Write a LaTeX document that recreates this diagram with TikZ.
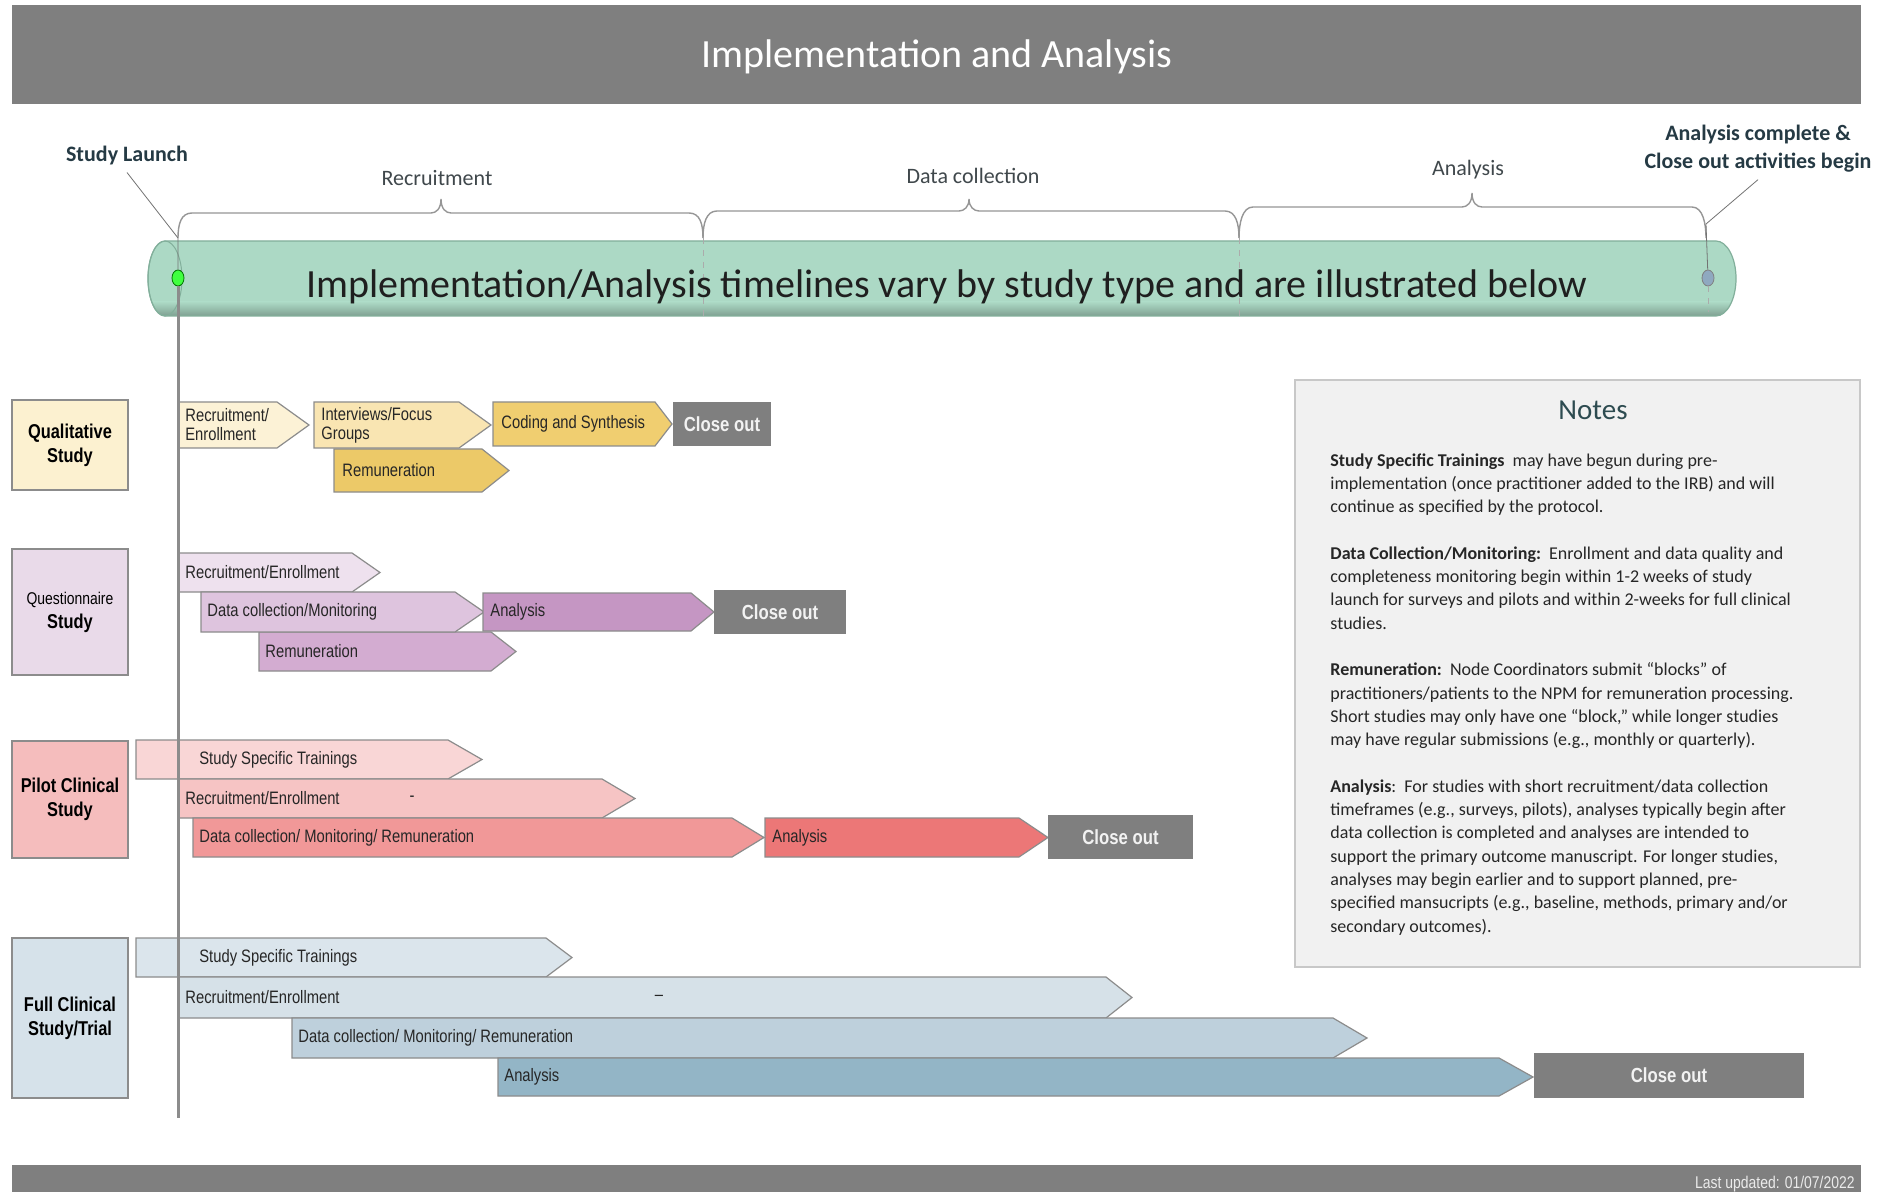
\documentclass[tikz,border=0pt]{standalone}
\usepackage{fontspec}
\setmainfont{Carlito}
\newfontfamily\narrowfont[FakeStretch=0.82]{Liberation Sans}
\usetikzlibrary{shapes.geometric}

\definecolor{barGray}{RGB}{127,127,127}
\definecolor{edgeGray}{RGB}{140,140,140}
\definecolor{tubeGreen}{RGB}{172,217,197}
\definecolor{tubeEdge}{RGB}{130,175,155}
\definecolor{leadText}{RGB}{37,58,68}
\definecolor{phaseText}{RGB}{64,72,76}
\definecolor{braceGray}{RGB}{150,150,150}
\definecolor{notesFill}{RGB}{241,241,241}
\definecolor{notesEdge}{RGB}{200,200,200}
\definecolor{notesHead}{RGB}{45,75,80}
% qualitative
\definecolor{qualBox}{RGB}{252,241,208}
\definecolor{qualA}{RGB}{252,242,214}
\definecolor{qualB}{RGB}{249,229,178}
\definecolor{qualC}{RGB}{240,206,112}
\definecolor{qualD}{RGB}{236,201,104}
% questionnaire
\definecolor{quesBox}{RGB}{233,218,233}
\definecolor{quesA}{RGB}{238,225,238}
\definecolor{quesB}{RGB}{222,196,222}
\definecolor{quesC}{RGB}{197,150,195}
\definecolor{quesD}{RGB}{211,172,209}
% pilot
\definecolor{pilBox}{RGB}{245,189,189}
\definecolor{pilA}{RGB}{249,214,214}
\definecolor{pilB}{RGB}{246,196,196}
\definecolor{pilC}{RGB}{241,152,152}
\definecolor{pilD}{RGB}{236,119,119}
% full trial
\definecolor{fullBox}{RGB}{214,226,234}
\definecolor{fullA}{RGB}{219,229,236}
\definecolor{fullB}{RGB}{214,225,232}
\definecolor{fullC}{RGB}{190,208,220}
\definecolor{fullD}{RGB}{147,181,198}

% [text inset]{name}{fill}{left x}{tip x}{tip length}{top y}{bottom y}{text}
\newcommand{\phase}[9][6]{%
  \filldraw[phaseedge, fill=#3] (#4,#7) -- ({#5-#6},#7) -- (#5,{(#7+#8)/2}) -- ({#5-#6},#8) -- (#4,#8) -- cycle;
  \node[phaselabel, anchor=west] (#2) at ({#4+#1},{(#7+#8)/2}) {#9};}
% {name}{left x}{right x}{top y}{bottom y}
\newcommand{\closebox}[5]{%
  \fill[barGray] (#2,#4) rectangle (#3,#5);
  \node[closelabel] (#1) at ({(#2+#3)/2},{(#4+#5)/2}) {Close out};}
% {name}{fill}{top y}{bottom y}{text}
\newcommand{\studybox}[5]{%
  \filldraw[studyedge, fill=#2] (12,#3) rectangle (128,#4);
  \node[studylabel] (#1) at (70,{(#3+#4)/2}) {#5};}
% {left x}{right x}{tip x}{flat y}{tip y}
\newcommand{\tbrace}[5]{%
  \draw[phasebrace] (#1,238) .. controls (#1,224) and ({#1+3},#4) .. ({#1+14},#4) -- ({#3-10},#4)
    .. controls ({#3-5},#4) and (#3,{#4-4}) .. (#3,#5) .. controls (#3,{#4-4}) and ({#3+5},#4) .. ({#3+10},#4)
    -- ({#2-14},#4) .. controls ({#2-3},#4) and (#2,224) .. (#2,238);}

\begin{document}
\begin{tikzpicture}[x=0.5pt, y=-0.5pt,
  phaseedge/.style={draw=edgeGray, line width=0.6pt},
  phaselabel/.style={font=\narrowfont\fontsize{9}{9.5}\selectfont, inner sep=0pt, align=left, text=black!85},
  closelabel/.style={font=\narrowfont\bfseries\fontsize{10.2}{12}\selectfont, text=white!95!black, inner sep=0pt},
  studyedge/.style={draw=edgeGray, line width=0.7pt},
  studylabel/.style={font=\narrowfont\bfseries\fontsize{10}{12}\selectfont, align=center, inner sep=0pt},
  phasebrace/.style={draw=braceGray, line width=0.7pt},
  leader/.style={draw=black!55, line width=0.4pt},
  leadlabel/.style={font=\bfseries\fontsize{11}{14}\selectfont, text=leadText, align=center},
  spanlabel/.style={font=\fontsize{11}{13}\selectfont, text=phaseText},
  timeline/.style={draw=black!45, line width=1.5pt}]

\useasboundingbox (0,0) rectangle (1895,1192);
\fill[white] (0,0) rectangle (1895,1192);

% header and footer bars
\fill[barGray] (12,5) rectangle (1861,104);
\node[font=\fontsize{20}{24}\selectfont, text=white] (title) at (937,57) {Implementation and Analysis};
\fill[barGray] (12,1165) rectangle (1861,1192);
\node[font=\narrowfont\fontsize{8.5}{10}\selectfont, text=black!8, anchor=east, inner sep=0pt] (updated) at (1855,1184) {Last updated: 01/07/2022};

% the tube, flat with a shadowed lower edge
\fill[tubeGreen] (165,241) -- (1716,241) arc[start angle=-90, end angle=90, x radius=20, y radius=37.5]
  -- (165,316) arc[start angle=90, end angle=270, x radius=17, y radius=37.5] -- cycle;
\begin{scope}
  \clip (165,241) -- (1716,241) arc[start angle=-90, end angle=90, x radius=20, y radius=37.5]
    -- (165,316) arc[start angle=90, end angle=270, x radius=17, y radius=37.5] -- cycle;
  \shade[top color=tubeGreen, bottom color=tubeGreen!72!black] (140,302) rectangle (1740,317);
\end{scope}
\draw[tubeEdge, line width=0.6pt] (165,241) -- (1716,241) arc[start angle=-90, end angle=90, x radius=20, y radius=37.5]
  -- (165,316) arc[start angle=90, end angle=270, x radius=17, y radius=37.5] -- cycle;
\draw[tubeEdge, line width=0.5pt] (165,278.5) ellipse[x radius=17, y radius=37.5];
\draw[braceGray!80, dashed, line width=0.5pt] (703,238) -- (703,316);
\draw[braceGray!80, dashed, line width=0.5pt] (1239,238) -- (1239,316);
\node[font=\fontsize{20}{24}\selectfont, text=black!88] (tubetext) at (947,287)
  {Implementation/Analysis timelines vary by study type and are illustrated below};

% braces over the tube
\tbrace{178}{703}{441}{213}{199}
\tbrace{703}{1239}{969}{211}{199}
\tbrace{1239}{1706}{1472}{207}{193}
\node[spanlabel] (recruit) at (437,178) {Recruitment};
\node[spanlabel] (datacoll) at (973,176) {Data collection};
\node[spanlabel] (analysis) at (1468,170) {Analysis};

% start and end markers
\node[ellipse, draw=green!45!black, fill=green!75!white, line width=0.4pt, minimum width=6pt, minimum height=8pt, inner sep=0pt] (launch) at (178,278) {};
\node[ellipse, draw=black!50, fill={rgb,255:red,143;green,169;blue,192}, line width=0.4pt, minimum width=6pt, minimum height=8pt, inner sep=0pt] (finish) at (1708,278) {};
\coordinate (launchtop) at (178,238);
\coordinate (finishtop) at (1706,224);
\node[leadlabel] (launchlbl) at (127,156) {Study Launch};
\node[leadlabel] (finishlbl) at (1758,149) {Analysis complete \&\\Close out activities begin};
\draw[leader] (launchlbl.south) -- (launchtop) -- (launch);
\draw[leader] (finishlbl.south) -- (finishtop) -- (finish);
\draw[braceGray!80, dashed, line width=0.5pt] (finish) -- (1708,312);

% study types
\studybox{qual}{qualBox}{400}{490}{Qualitative\\Study}
\studybox{ques}{quesBox}{549}{675}{{\mdseries\fontsize{8.5}{10.5}\selectfont Questionnaire}\\Study}
\studybox{pilot}{pilBox}{741}{858}{Pilot Clinical\\Study}
\studybox{full}{fullBox}{938}{1098}{Full Clinical\\Study/Trial}

% qualitative
\phase{qRecruit}{qualA}{179}{309}{32}{402}{448}{Recruitment/\\Enrollment}
\phase[7]{qInterview}{qualB}{314}{491}{32}{402}{448}{Interviews/Focus\\Groups}
\phase[8]{qCoding}{qualC}{493}{672}{17}{402}{446}{Coding and Synthesis}
\closebox{qClose}{673}{771}{402}{446}
\phase[8]{qRemun}{qualD}{334}{509}{27}{449}{492}{Remuneration}

% questionnaire
\phase{sRecruit}{quesA}{179}{380}{28}{553}{592}{Recruitment/Enrollment}
\phase{sRemun}{quesD}{259}{516}{25}{632}{671}{Remuneration}
\phase{sData}{quesB}{201}{484}{29}{592}{632}{Data collection/Monitoring}
\phase[7]{sAnalysis}{quesC}{483}{714}{23}{593}{631}{Analysis}
\closebox{sClose}{714}{846}{590}{634}

% pilot clinical
\phase[63]{pTrain}{pilA}{136}{482}{34}{740}{779}{Study Specific Trainings}
\phase{pRecruit}{pilB}{179}{635}{33}{779}{818}{Recruitment/Enrollment}
\node[phaselabel] (pDash) at (412,799) {-};
\phase{pData}{pilC}{193}{764}{32}{818}{857}{Data collection/ Monitoring/ Remuneration}
\phase[7]{pAnalysis}{pilD}{765}{1048}{29}{818}{857}{Analysis}
\closebox{pClose}{1048}{1193}{815}{859}

% full clinical trial
\phase[63]{fTrain}{fullA}{136}{572}{26}{938}{977}{Study Specific Trainings}
\phase{fRecruit}{fullB}{179}{1132}{26}{977}{1018}{Recruitment/Enrollment}
\node[phaselabel] (fDash) at (659,998) {–};
\phase{fData}{fullC}{292}{1367}{34}{1018}{1058}{Data collection/ Monitoring/ Remuneration}
\phase{fAnalysis}{fullD}{498}{1533}{34}{1058}{1096}{Analysis}
\closebox{fClose}{1534}{1804}{1053}{1098}

% time line from launch
\draw[timeline] (launch) -- (178,1118);

% notes panel
\filldraw[draw=notesEdge, fill=notesFill, line width=0.8pt] (1295,380) rectangle (1860,967);
\node[font=\fontsize{14.5}{17}\selectfont, text=notesHead] (notes) at (1593,410) {Notes};
\node[anchor=north west, inner sep=0pt, align=left, font=\fontsize{9}{11.65}\selectfont, text=black!85] (notetext) at (1330,453) {%
  \textbf{Study Specific Trainings}\ \ may have begun during pre-\\
  implementation (once practitioner added to the IRB) and will\\
  continue as specified by the protocol.\\[11.65pt]
  \textbf{Data Collection/Monitoring:}\ \ Enrollment and data quality and\\
  completeness monitoring begin within 1-2 weeks of study\\
  launch for surveys and pilots and within 2-weeks for full clinical\\
  studies.\\[11.65pt]
  \textbf{Remuneration:}\ \ Node Coordinators submit “blocks” of\\
  practitioners/patients to the NPM for remuneration processing.\\
  Short studies may only have one “block,” while longer studies\\
  may have regular submissions (e.g., monthly or quarterly).\\[11.65pt]
  \textbf{Analysis}:\ \ For studies with short recruitment/data collection\\
  timeframes (e.g., surveys, pilots), analyses typically begin after\\
  data collection is completed and analyses are intended to\\
  support the primary outcome manuscript. For longer studies,\\
  analyses may begin earlier and to support planned, pre-\\
  specified mansucripts (e.g., baseline, methods, primary and/or\\
  secondary outcomes).};
\end{tikzpicture}
\end{document}
